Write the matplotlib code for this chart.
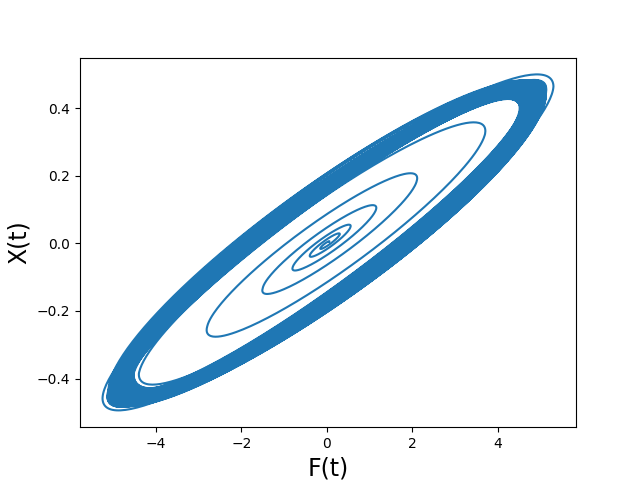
import numpy as np
import matplotlib
matplotlib.use("Agg")
import matplotlib.pyplot as plt

# F(t) amplitude at each successive turning point of the trajectory
# (alternating right / left tips)
inner_amps = [0.05, 0.15, 0.3, 0.4, 0.55, 0.8, 1.15, 1.5, 2.1, 2.8, 3.7,
              4.4, 4.6, 5.0, 5.3, 5.25]
band_amps = [5.1, 4.9, 4.7, 4.55, 4.65, 4.85, 5.05, 5.12, 4.95, 4.75, 4.6,
             4.55, 4.7, 4.9, 5.08, 5.1, 4.92, 4.72, 4.58, 4.52, 4.66, 4.86,
             5.04, 5.14, 5.0, 4.8, 4.62, 4.54, 4.6, 4.78, 4.98, 5.1, 5.12,
             4.96, 4.76, 4.6, 4.53, 4.68, 4.88, 5.06, 5.12, 4.98, 4.8, 4.64,
             4.56, 4.7, 4.9, 5.06, 5.1, 4.96, 4.8, 4.65, 4.58, 4.7, 4.88,
             5.02, 5.08, 4.95, 4.78, 4.63, 4.55, 4.62, 4.74, 4.93, 5.07,
             5.13, 5.03, 4.84, 4.67, 4.57, 4.51, 4.64, 4.82, 5.0, 5.11,
             5.09, 4.93, 4.73, 4.59, 4.54, 4.61, 4.8, 4.97, 5.09, 5.13,
             5.01, 4.83, 4.66, 4.56, 4.53, 4.69, 4.87, 5.03, 5.12, 5.05,
             4.89, 4.71, 4.6, 4.52, 4.63, 4.81, 4.99, 5.1, 5.11, 4.97,
             4.79, 4.64, 4.55, 4.57, 4.72, 4.91, 5.05, 5.13, 5.04, 4.86,
             4.69, 4.58, 4.54, 4.65, 4.84, 5.01, 5.11, 5.07, 4.91, 4.74,
             4.61, 4.55, 4.6, 4.76, 4.94, 5.06, 5.1, 4.99, 4.82, 4.67]
# phase lag of X behind F (degrees) at each turning point
inner_lags = [22] * len(inner_amps)
band_lags = [20, 22, 24, 26, 25, 23, 21, 19, 20, 23, 25, 26, 24, 22, 20, 19,
             21, 24, 26, 25, 23, 20, 19, 21, 23, 25, 26, 24, 21, 19, 20, 22,
             25, 26, 24, 22, 20, 19, 21, 23, 25, 26, 23, 21, 19, 20, 22, 24,
             26, 25, 22, 20, 19, 21, 24, 25, 23, 21, 20, 22, 25, 26, 24, 21,
             19, 20, 23, 25, 26, 23, 20, 19, 22, 24, 26, 25, 22, 20, 19, 21,
             24, 26, 25, 23, 21, 19, 20, 23, 25, 26, 24, 22, 19, 20, 22, 25,
             26, 24, 21, 19, 21, 23, 25, 26, 23, 20, 19, 22, 24, 26, 25, 22,
             19, 20, 23, 25, 26, 24, 21, 19, 21, 24, 26, 25, 22, 20, 19, 21,
             23, 25, 26, 24, 22, 20, 19, 21, 23, 26, 25, 23, 20, 19, 21, 24,
             25, 23]
gain = 0.0945  # X amplitude per unit F amplitude

amps = inner_amps + band_amps
lags = np.deg2rad(inner_lags + band_lags)
n = min(len(amps), len(lags))
F, X = [], []
for i in range(n - 1):
    th = np.linspace(i * np.pi, (i + 1) * np.pi, 120)
    a = np.linspace(amps[i], amps[i + 1], 120)
    lag = np.linspace(lags[i], lags[i + 1], 120)
    F.append(a * np.cos(th))
    X.append(gain * a * np.cos(th - lag))
F = np.concatenate(F)
X = np.concatenate(X)

plt.figure(figsize=(6.4, 4.8))
plt.plot(F, X)
plt.xlabel("F(t)", fontsize=17)
plt.ylabel("X(t)", fontsize=17)
plt.savefig("out.png")
